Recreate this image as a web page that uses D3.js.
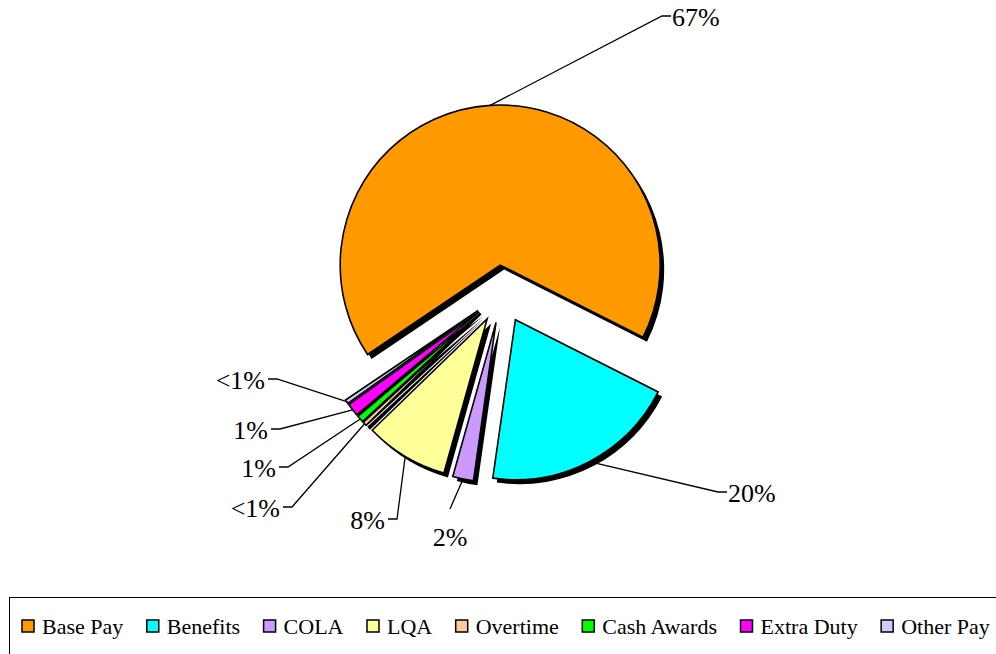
<!DOCTYPE html>
<html><head><meta charset="utf-8">
<script src="https://cdn.jsdelivr.net/npm/d3@7"></script>
<style>body{margin:0;background:#fff;} svg{display:block;}</style>
</head><body>
<svg id="chart" width="996" height="654"></svg>
<script>
const categories = ["Base Pay","Benefits","COLA","LQA","Overtime","Cash Awards","Extra Duty","Other Pay"];
const values = [66.9, 19.8, 2.1, 8.4, 0.4, 0.7, 1.3, 0.4];
const colors = ["#FF9900","#00FFFF","#CC99FF","#FFFF99","#FFCC99","#00FF00","#FF00FF","#CCCCFF"];
const pctLabels = values.map(v => v < 0.5 ? "<1%" : Math.round(v) + "%");

// layout (label elbows), not data
const labelLayout = [
  {ex:662, ey:16, dir:1},
  {ex:718, ey:492, dir:1},
  {ex:450, ey:509, dir:0},
  {ex:397, ey:519, dir:-1},
  {ex:292, ey:507, dir:-1},
  {ex:288, ey:467, dir:-1},
  {ex:280, ey:429, dir:-1},
  {ex:277, ey:379, dir:-1}
];

const svg = d3.select("#chart");
const cx = 502, cy = 294, R = 160, explode = 29;
const startA = 236 * Math.PI / 180;
const pie = d3.pie().sort(null).startAngle(startA).endAngle(startA + 2*Math.PI).value(d => d);
const arcs = pie(values);
const arc = d3.arc().innerRadius(0).outerRadius(R);
const font = "'Liberation Serif','Times New Roman',serif";

function off(d) {
  const m = (d.startAngle + d.endAngle) / 2;
  return [cx + explode*Math.sin(m), cy - explode*Math.cos(m)];
}

const g = svg.append("g");
// shadows
g.selectAll("path.sh").data(arcs).enter().append("path")
  .attr("class","sh")
  .attr("d", arc)
  .attr("transform", d => { const o = off(d); return `translate(${o[0]+4},${o[1]+4.5})`; })
  .attr("fill", "#000");
// slices
g.selectAll("path.sl").data(arcs).enter().append("path")
  .attr("class","sl")
  .attr("d", arc)
  .attr("transform", d => { const o = off(d); return `translate(${o[0]},${o[1]})`; })
  .attr("fill", (d,i) => colors[i])
  .attr("stroke", "#000").attr("stroke-width", 1.6).attr("stroke-linejoin","miter");

// leader lines & labels
arcs.forEach((d, i) => {
  const o = off(d);
  const m = (d.startAngle + d.endAngle) / 2;
  const sx = o[0] + R*Math.sin(m), sy = o[1] - R*Math.cos(m);
  const L = labelLayout[i];
  let pts = [[sx, sy], [L.ex, L.ey]];
  if (L.dir !== 0) pts.push([L.ex + L.dir*9, L.ey]);
  svg.append("path").attr("d", d3.line()(pts))
    .attr("fill","none").attr("stroke","#000").attr("stroke-width",1.3);
  const t = svg.append("text").text(pctLabels[i])
    .attr("font-family", font).attr("font-size", 26).attr("fill","#000");
  if (L.dir === 1) t.attr("x", L.ex + 10).attr("y", L.ey + 10).attr("text-anchor","start");
  else if (L.dir === -1) t.attr("x", L.ex - 12).attr("y", L.ey + 10).attr("text-anchor","end");
  else t.attr("x", L.ex).attr("y", L.ey + 37).attr("text-anchor","middle");
});

// legend
svg.append("rect").attr("x", 9.5).attr("y", 597.5).attr("width", 1000).attr("height", 100)
  .attr("fill","none").attr("stroke","#000").attr("stroke-width",1);
let lx = 22;
const ly = 627;
categories.forEach((c, i) => {
  svg.append("rect").attr("x", lx).attr("y", ly - 7).attr("width", 12).attr("height", 12)
    .attr("fill", colors[i]).attr("stroke", "#000").attr("stroke-width", 1.5);
  const t = svg.append("text").text(c).attr("x", lx + 20).attr("y", ly + 7)
    .attr("font-family", font).attr("font-size", 22).attr("fill","#000");
  lx = lx + 20 + t.node().getComputedTextLength() + 23.5;
});
</script>
</body></html>
